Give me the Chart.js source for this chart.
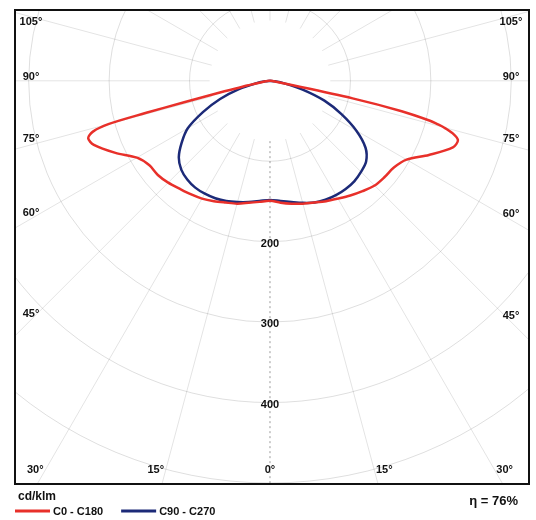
<!DOCTYPE html>
<html>
<head>
<meta charset="utf-8">
<script src="https://cdn.jsdelivr.net/npm/chart.js@4/dist/chart.umd.min.js"></script>
<style>
  html, body { margin: 0; padding: 0; background: #fff; }
</style>
</head>
<body>
<canvas id="polarChart" width="536" height="520"></canvas>
<script>
// gamma angles (deg from nadir) and intensities in cd/klm
const redAngles = [0, 5, 10, 15, 20, 25, 30, 35, 40, 45, 50, 55, 60, 65, 70, 72.5, 74, 75, 75.5, 76, 77, 78, 80, 85, 90];
const redC0 = [149, 152, 155, 158, 161, 165, 169, 174, 179, 184, 186, 188, 196, 218, 242, 245, 236, 224, 215, 205, 168, 105, 12, 3, 0];
const redC180 = [149, 151, 154, 158, 161, 165, 169, 172, 175, 179, 182, 183, 191, 212, 233, 237, 229, 208, 160, 110, 58, 35, 12, 3, 0];

const blueAngles = [0, 5, 10, 15, 20, 25, 30, 35, 40, 45, 50, 55, 60, 65, 70, 75, 80, 85, 90];
const blueC90 = [148, 150, 153, 157, 161, 163, 164, 164, 163, 160, 156, 145, 124, 98, 72, 42, 18, 6, 0];
const blueC270 = [148, 150, 153, 156, 159, 161, 162, 162, 160, 156, 148, 134, 118, 92, 66, 40, 18, 6, 0];

const ringValues = [100, 200, 300, 400, 500];
const ringLabels = [200, 300, 400];
const spokeAngles = [0, 15, 30, 45, 60, 75, 90, 105, 120, 135, 150, 165, 180];
const bottomLabels = [0, 15, 30];
const sideLabels = [45, 60, 75, 90, 105];
const unitText = 'cd/klm';
const etaText = 'η = 76%';

const deg = Math.PI / 180;

// left half goes from 90 down to 0, right half from 0 up to 90
function curve(angles, left, right) {
  const pts = [];
  for (let i = angles.length - 1; i >= 0; i--) {
    pts.push({ x: -left[i] * Math.sin(angles[i] * deg), y: -left[i] * Math.cos(angles[i] * deg) });
  }
  for (let i = 1; i < angles.length; i++) {
    pts.push({ x: right[i] * Math.sin(angles[i] * deg), y: -right[i] * Math.cos(angles[i] * deg) });
  }
  return pts;
}

const gridPlugin = {
  id: 'polarGrid',
  beforeDatasetsDraw(chart) {
    const { ctx, chartArea: a, scales: { x, y } } = chart;
    const cx = x.getPixelForValue(0);
    const cy = y.getPixelForValue(0);
    const k = x.getPixelForValue(100) - cx; // px per 100 cd/klm
    ctx.save();
    ctx.beginPath();
    ctx.rect(a.left, a.top, a.right - a.left, a.bottom - a.top);
    ctx.clip();
    ctx.strokeStyle = 'rgba(0,0,0,0.13)';
    ctx.lineWidth = 1;
    ringValues.forEach(v => {
      ctx.beginPath();
      ctx.arc(cx, cy, k * v / 100, 0, Math.PI * 2);
      ctx.stroke();
    });
    spokeAngles.forEach(g => {
      [-1, 1].forEach(s => {
        if ((g === 0 || g === 180) && s < 0) return;
        const dx = s * Math.sin(g * deg), dy = Math.cos(g * deg);
        const r0 = k * 0.75;
        ctx.beginPath();
        if (g === 0) {
          ctx.strokeStyle = 'rgba(0,0,0,0.4)';
          ctx.setLineDash([2, 3]);
        } else {
          ctx.strokeStyle = 'rgba(0,0,0,0.11)';
          ctx.setLineDash([]);
        }
        ctx.moveTo(cx + dx * r0, cy + dy * r0);
        ctx.lineTo(cx + dx * 1000, cy + dy * 1000);
        ctx.stroke();
      });
    });
    ctx.restore();
  },
  afterDraw(chart) {
    const { ctx, chartArea: a, scales: { x, y } } = chart;
    const cx = x.getPixelForValue(0);
    const cy = y.getPixelForValue(0);
    ctx.save();
    // frame
    ctx.strokeStyle = '#111';
    ctx.lineWidth = 2;
    ctx.strokeRect(a.left, a.top, a.right - a.left, a.bottom - a.top);

    ctx.fillStyle = '#111';
    ctx.font = 'bold 11px "Liberation Sans", Arial, sans-serif';
    ctx.textAlign = 'center';
    ctx.textBaseline = 'middle';
    ringLabels.forEach(v => {
      ctx.fillText(String(v), cx, y.getPixelForValue(-v) + 2);
    });

    // angle labels where the spokes meet the frame
    const by = a.bottom - 14;
    bottomLabels.forEach(g => {
      const dx = (by - cy) * Math.tan(g * deg);
      if (g === 0) {
        ctx.fillText(g + '°', cx, by);
      } else {
        ctx.fillText(g + '°', cx - dx - 10, by);
        ctx.fillText(g + '°', cx + dx + 10, by);
      }
    });
    sideLabels.forEach(g => {
      [-1, 1].forEach(s => {
        const lx = s < 0 ? a.left + 16 : a.right - 18;
        const dx = Math.abs(lx - cx);
        let ly = cy + dx / Math.tan(g * deg) - 6;
        if (g === 90) ly = cy - 4;
        ly = Math.max(ly, a.top + 12);
        ctx.fillText(g + '°', lx, ly);
      });
    });

    // legend
    ctx.textAlign = 'left';
    ctx.font = 'bold 12px "Liberation Sans", Arial, sans-serif';
    ctx.fillText(unitText, 18, a.bottom + 13);
    ctx.font = 'bold 11px "Liberation Sans", Arial, sans-serif';
    let lx = 15;
    chart.data.datasets.forEach(ds => {
      ctx.strokeStyle = ds.borderColor;
      ctx.lineWidth = 3;
      ctx.beginPath();
      ctx.moveTo(lx, a.bottom + 27);
      ctx.lineTo(lx + 35, a.bottom + 27);
      ctx.stroke();
      ctx.fillText(ds.label, lx + 38, a.bottom + 28);
      lx += 38 + ctx.measureText(ds.label).width + 18;
    });
    ctx.font = 'bold 13px "Liberation Sans", Arial, sans-serif';
    ctx.textAlign = 'right';
    ctx.fillText(etaText, a.right - 11, a.bottom + 17);
    ctx.restore();
  }
};

new Chart(document.getElementById('polarChart'), {
  type: 'scatter',
  data: {
    datasets: [{
      label: 'C0 - C180',
      data: curve(redAngles, redC180, redC0),
      borderColor: '#e8302a',
      borderWidth: 2.5,
      showLine: true,
      pointRadius: 0,
      tension: 0.3,
    }, {
      label: 'C90 - C270',
      data: curve(blueAngles, blueC270, blueC90),
      borderColor: '#1c2a78',
      borderWidth: 2.5,
      showLine: true,
      pointRadius: 0,
      tension: 0.3,
    }],
  },
  options: {
    responsive: false,
    animation: false,
    layout: { padding: { left: 15, right: 7, top: 10, bottom: 36 } },
    scales: {
      x: { type: 'linear', min: -317, max: 322, display: false },
      y: { type: 'linear', min: -501, max: 88, display: false },
    },
    plugins: {
      legend: { display: false },
      tooltip: { enabled: false },
    },
  },
  plugins: [gridPlugin],
});
</script>
</body>
</html>
